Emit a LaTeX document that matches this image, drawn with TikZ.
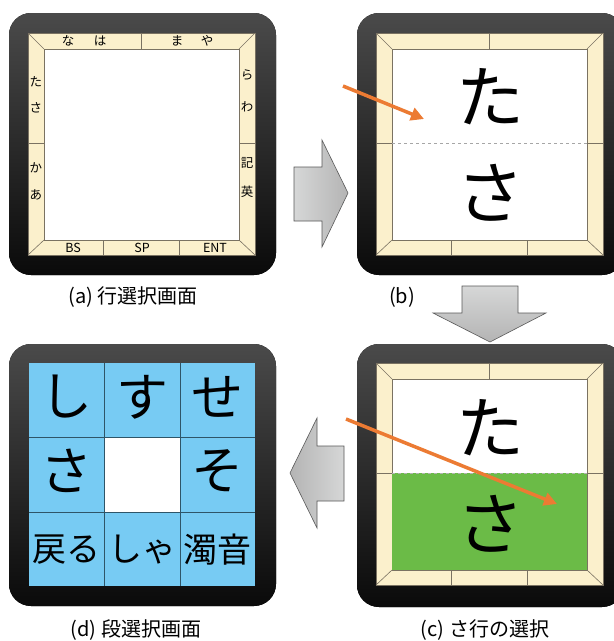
\documentclass[tikz,border=0pt]{standalone}
\usepackage{fontspec}
\setmainfont{Noto Sans CJK JP}
\usetikzlibrary{arrows.meta}
\definecolor{beige}{HTML}{FBF0CC}
\definecolor{bztop}{HTML}{4A4A4A}
\definecolor{bzbot}{HTML}{0A0A0A}
\definecolor{fline}{HTML}{7A7262}
\definecolor{cellblue}{HTML}{77CBF3}
\definecolor{gridline}{HTML}{2E5568}
\definecolor{selgreen}{HTML}{6BBB47}
\definecolor{orangearr}{HTML}{EC7B33}
\definecolor{arrlight}{HTML}{D6D7D7}
\definecolor{arrdark}{HTML}{B4B4B4}
\tikzset{
  bezel/.style={rounded corners=22pt, top color=bztop, bottom color=bzbot, draw=none},
  frameline/.style={draw=fline, line width=0.6pt},
  small/.style={font=\fontsize{12.5}{12.5}\selectfont, inner sep=0pt},
  btn/.style={font=\fontsize{12.5}{12.5}\selectfont, inner sep=0pt},
  bigkana/.style={font=\fontsize{68}{68}\selectfont, inner sep=0pt},
  cellkana/.style={font=\fontsize{52}{52}\selectfont, inner sep=0pt},
  cellword/.style={font=\fontsize{34}{34}\selectfont, inner sep=0pt},
  caption/.style={font=\fontsize{20}{20}\selectfont, inner sep=0pt},
  blockarrow/.style={draw=black!65, line width=0.6pt},
  swipe/.style={draw=orangearr, line width=3.5pt, -{Triangle[length=13pt,width=13pt]}},
}
\newcommand\kbframe[2]{%
\begin{scope}[shift={(#1,#2)}]
\fill[beige] (28,33) rectangle (255,255);
\fill[white] (44,49) rectangle (239,240);
\draw[frameline] (28,33) rectangle (255,255);
\draw[frameline] (44,49) rectangle (239,240);
\draw[frameline] (28,33)--(44,49) (255,33)--(239,49) (28,255)--(44,240) (255,255)--(239,240);
\draw[frameline] (141.5,33)--(141.5,49);
\draw[frameline] (103.7,240)--(103.7,255) (179.3,240)--(179.3,255);
\draw[frameline] (28,143)--(44,143) (239,143)--(255,143);
\end{scope}}
\begin{document}
\begin{tikzpicture}[x=1pt,y=-1pt]
\useasboundingbox (0,0) rectangle (614,641);
\clip (0,0) rectangle (614,641);
\fill[white] (0,0) rectangle (614,641);

% ---------- panel (a)
\fill[bezel] (9,13) rectangle (276,275);
\kbframe{0}{0}
\node[small] (an1) at (68,41) {な};
\node[small] (an2) at (100,41) {は};
\node[small] (an3) at (177,41) {ま};
\node[small] (an4) at (207,41) {や};
\node[small] (al1) at (36,82) {た};
\node[small] (al2) at (36,108) {さ};
\node[small] (al3) at (36,168) {か};
\node[small] (al4) at (36,195) {あ};
\node[small] (ar1) at (247,75) {ら};
\node[small] (ar2) at (247,107) {わ};
\node[small] (ar3) at (247,163) {記};
\node[small] (ar4) at (247,192) {英};
\node[btn] (bs) at (73,248) {BS};
\node[btn] (sp) at (142,248) {SP};
\node[btn] (ent) at (215,248) {ENT};
\node[caption] (capa) at (133,297) {(a) 行選択画面};

% ---------- panel (b)
\fill[bezel] (357,13) rectangle (624,275);
\kbframe{348}{0}
\draw[gray!70, dashed, line width=0.5pt] (392,143) -- (587,143);
\node[bigkana] (bta) at (490,97) {た};
\node[bigkana] (bsa) at (490,193) {さ};
\node[caption] (capb) at (402,297) {(b)};
\coordinate (sb1) at (343,86);
\coordinate (sb2) at (424,119);
\draw[swipe] (sb1) -- (sb2);

% ---------- panel (c)
\fill[bezel] (357,344) rectangle (624,607);
\kbframe{348}{330}
\fill[selgreen] (392,473) rectangle (587,570);
\draw[gray!60, dashed, line width=0.5pt] (392,473) -- (587,473);
\node[bigkana] (cta) at (490,428) {た};
\node[bigkana] (csa) at (490,524) {さ};
\node[caption] (capc) at (485,630) {(c) さ行の選択};
\coordinate (sc1) at (346,419);
\coordinate (sc2) at (557,504);
\draw[swipe] (sc1) -- (sc2);

% ---------- panel (d)
\fill[bezel] (9,344) rectangle (276,606);
\fill[cellblue] (29,363) rectangle (255,586);
\fill[white] (104,437) rectangle (180,512);
\draw[gridline, line width=0.6pt] (104,363)--(104,586) (180,363)--(180,586)
  (29,437)--(255,437) (29,512)--(255,512);
\node[cellkana] (dshi) at (66,397) {し};
\node[cellkana] (dsu) at (142,397) {す};
\node[cellkana] (dse) at (217,397) {せ};
\node[cellkana] (dsa) at (66,471) {さ};
\node[cellkana] (dso) at (217,471) {そ};
\node[cellword] (dback) at (66,550) {戻る};
\node[cellword] (dsha) at (142,550) {しゃ};
\node[cellword] (ddaku) at (217,550) {濁音};
\node[caption] (capd) at (136,630) {(d) 段選択画面};

% ---------- block arrows
\path[left color=arrlight, right color=arrdark, blockarrow]
  (294,167) -- (322,167) -- (322,140) -- (348,193) -- (322,247) -- (322,221) -- (294,221) -- cycle;
\path[top color=arrlight, bottom color=arrdark, blockarrow]
  (462,286) -- (518,286) -- (518,313) -- (546,313) -- (490,342) -- (433,313) -- (462,313) -- cycle;
\path[left color=arrdark, right color=arrlight, blockarrow]
  (344,446) -- (317,446) -- (317,418) -- (290,473) -- (317,528) -- (317,501) -- (344,501) -- cycle;
\end{tikzpicture}
\end{document}
